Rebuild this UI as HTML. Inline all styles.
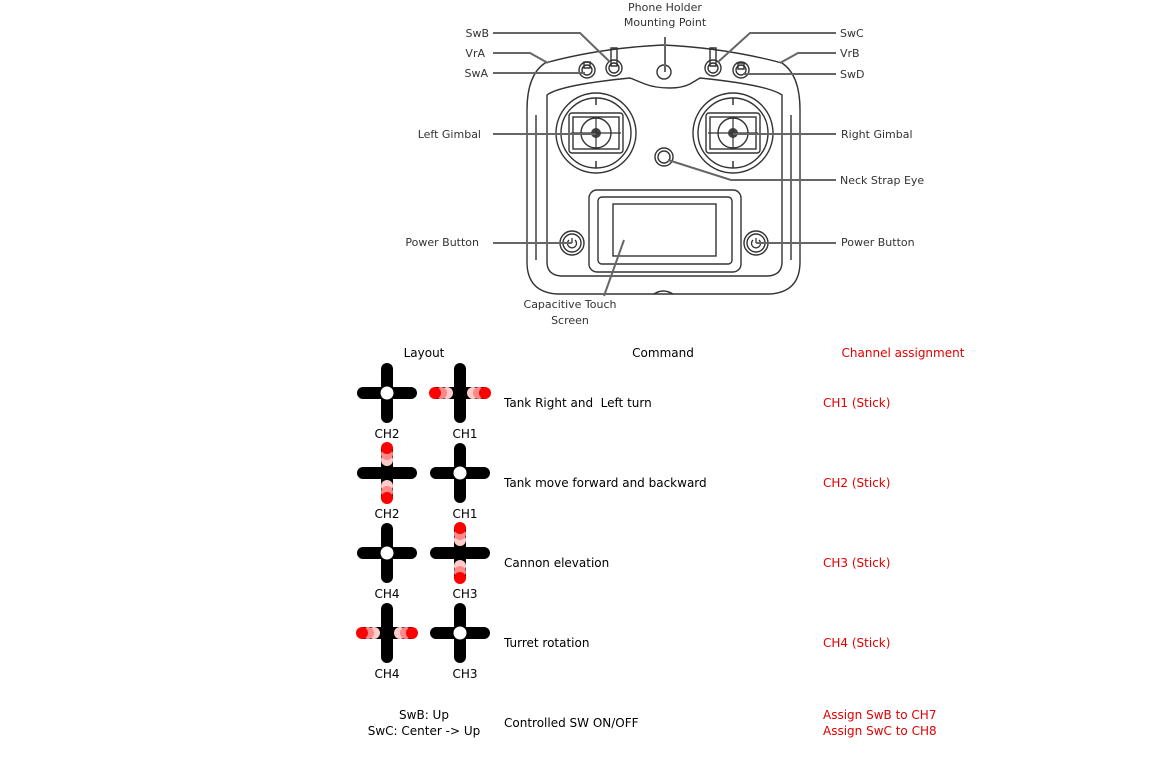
<!DOCTYPE html>
<html><head><meta charset="utf-8"><style>
html,body{margin:0;padding:0;background:#fff;width:1161px;height:764px;overflow:hidden}
svg{display:block}
.l{font-family:"DejaVu Sans","Liberation Sans",sans-serif;font-size:11px;fill:#333}
.t{font-family:"DejaVu Sans","Liberation Sans",sans-serif;font-size:12px;fill:#000}
.r{fill:#e00000}
.ln{stroke:#666;stroke-width:2;fill:none}
.o{stroke:#333;stroke-width:1.4;fill:none}
</style></head><body>
<svg width="1161" height="764" viewBox="0 0 1161 764" xmlns="http://www.w3.org/2000/svg">
<defs>
<g id="cross"><line x1="-24" y1="0" x2="24" y2="0" stroke="#000" stroke-width="12" stroke-linecap="round"/><line x1="0" y1="-24" x2="0" y2="24" stroke="#000" stroke-width="12" stroke-linecap="round"/></g>
<g id="dh"><circle cx="-13" cy="0" r="6" fill="#fcc"/><circle cx="-19" cy="0" r="6" fill="#f88"/><circle cx="-25" cy="0" r="6" fill="#f00"/><circle cx="13" cy="0" r="6" fill="#fcc"/><circle cx="19" cy="0" r="6" fill="#f88"/><circle cx="25" cy="0" r="6" fill="#f00"/></g>
<g id="dv"><circle cy="-13" cx="0" r="6" fill="#fcc"/><circle cy="-19" cx="0" r="6" fill="#f88"/><circle cy="-25" cx="0" r="6" fill="#f00"/><circle cy="13" cx="0" r="6" fill="#fcc"/><circle cy="19" cx="0" r="6" fill="#f88"/><circle cy="25" cx="0" r="6" fill="#f00"/></g>
<circle id="wc" r="6.5" fill="#fff"/>
<g id="gimbal"><circle r="40" class="o"/><circle r="35" class="o"/><rect x="-27" y="-20" width="54" height="40" rx="3" class="o"/><rect x="-23" y="-16" width="46" height="32" class="o"/><circle r="15" class="o"/><circle r="5" fill="#444"/><line x1="-25" y1="0" x2="25" y2="0" stroke="#333" stroke-width="1.2"/><line x1="0" y1="-15" x2="0" y2="15" stroke="#333" stroke-width="1.2"/><line x1="0" y1="-35" x2="0" y2="-28" stroke="#333" stroke-width="1.5"/><line x1="0" y1="28" x2="0" y2="35" stroke="#333" stroke-width="1.5"/></g>
<g id="pwr"><circle r="12" class="o"/><circle r="9" class="o"/><path d="M-3,-3 A4.5,4.5 0 1 0 3,-3" stroke="#333" stroke-width="1.3" fill="none"/><line x1="0" y1="-5" x2="0" y2="0" stroke="#333" stroke-width="1.3"/></g>
<g id="sw"><circle r="8" class="o" stroke-width="1.6"/><circle r="5" class="o"/></g>
</defs>

<path class="o" d="M545,63 Q600,48 663,45 Q726,48 782,63 Q800,75 800,110 L800,262 Q800,292 770,294 L557,294 Q527,292 527,262 L527,110 Q527,75 545,63 Z"/>
<path class="o" d="M547,95 Q560,85 630,78 L645,84 Q655,88 670,88 Q682,88 690,84 L700,78 Q768,85 782,95 L782,262 Q782,275 768,276 L561,276 Q547,275 547,262 Z" stroke-width="2"/>
<path class="o" d="M536,115 L536,260 M791,115 L791,260"/>
<path class="o" d="M654,294 Q663,288 673,294" stroke-width="3"/>
<use href="#gimbal" x="596" y="133"/>
<use href="#gimbal" x="733" y="133"/>
<rect x="589" y="190" width="152" height="82" rx="8" class="o"/>
<rect x="598" y="197" width="134" height="67" rx="4" class="o"/>
<rect x="613" y="204" width="103" height="52" class="o"/>
<use href="#pwr" x="572" y="243"/>
<use href="#pwr" x="756" y="243"/>
<circle cx="664" cy="157" r="9" class="o"/><circle cx="664" cy="157" r="6" class="o"/>
<circle cx="664" cy="72" r="7" class="o"/>
<use href="#sw" x="587" y="70"/><use href="#sw" x="614" y="68"/><use href="#sw" x="713" y="68"/><use href="#sw" x="741" y="70"/>
<path class="o" d="M584,62 L584,68 L590,68 L590,62 Z M611,48 L611,66 L617,66 L617,48 Z M710,48 L710,66 L716,66 L716,48 Z M738,63 L738,69 L744,69 L744,63 Z"/>

<path class="ln" d="M493,33 L580,33 L610,62"/>
<path class="ln" d="M493,53 L530,53 L548,63"/>
<path class="ln" d="M493,73 L585,73"/>
<path class="ln" d="M665,37 L665,72"/>
<path class="ln" d="M836,33 L750,33 L718,62"/>
<path class="ln" d="M836,53 L798,53 L780,63"/>
<path class="ln" d="M836,74 L743,74"/>
<path class="ln" d="M493,134 L596,134"/>
<path class="ln" d="M836,134 L733,134"/>
<path class="ln" d="M836,180 L731,180 L668,160"/>
<path class="ln" d="M493,243 L572,243"/>
<path class="ln" d="M836,243 L756,243"/>
<path class="ln" d="M604,296 L624,240"/>

<text class="l" x="665" y="11" text-anchor="middle">Phone Holder</text>
<text class="l" x="665" y="26" text-anchor="middle">Mounting Point</text>
<text class="l" x="489" y="37" text-anchor="end">SwB</text>
<text class="l" x="485" y="57" text-anchor="end">VrA</text>
<text class="l" x="488" y="77" text-anchor="end">SwA</text>
<text class="l" x="840" y="37">SwC</text>
<text class="l" x="840" y="57">VrB</text>
<text class="l" x="840" y="78">SwD</text>
<text class="l" x="481" y="138" text-anchor="end">Left Gimbal</text>
<text class="l" x="841" y="138">Right Gimbal</text>
<text class="l" x="840" y="184">Neck Strap Eye</text>
<text class="l" x="479" y="246" text-anchor="end">Power Button</text>
<text class="l" x="841" y="246">Power Button</text>
<text class="l" x="570" y="308" text-anchor="middle">Capacitive Touch</text>
<text class="l" x="570" y="324" text-anchor="middle">Screen</text>

<text class="t" x="424" y="357" text-anchor="middle">Layout</text>
<text class="t" x="663" y="357" text-anchor="middle">Command</text>
<text class="t r" x="903" y="357" text-anchor="middle">Channel assignment</text>

<use href="#cross" x="387" y="393"/><use href="#wc" x="387" y="393"/>
<use href="#cross" x="460" y="393"/><use href="#dh" x="460" y="393"/>
<text class="t" x="387" y="438" text-anchor="middle">CH2</text><text class="t" x="465" y="438" text-anchor="middle">CH1</text>
<text class="t" x="504" y="407">Tank Right and &#160;Left turn</text>
<text class="t r" x="823" y="407">CH1 (Stick)</text>

<use href="#cross" x="387" y="473"/><use href="#dv" x="387" y="473"/>
<use href="#cross" x="460" y="473"/><use href="#wc" x="460" y="473"/>
<text class="t" x="387" y="518" text-anchor="middle">CH2</text><text class="t" x="465" y="518" text-anchor="middle">CH1</text>
<text class="t" x="504" y="487">Tank move forward and backward</text>
<text class="t r" x="823" y="487">CH2 (Stick)</text>

<use href="#cross" x="387" y="553"/><use href="#wc" x="387" y="553"/>
<use href="#cross" x="460" y="553"/><use href="#dv" x="460" y="553"/>
<text class="t" x="387" y="598" text-anchor="middle">CH4</text><text class="t" x="465" y="598" text-anchor="middle">CH3</text>
<text class="t" x="504" y="567">Cannon elevation</text>
<text class="t r" x="823" y="567">CH3 (Stick)</text>

<use href="#cross" x="387" y="633"/><use href="#dh" x="387" y="633"/>
<use href="#cross" x="460" y="633"/><use href="#wc" x="460" y="633"/>
<text class="t" x="387" y="678" text-anchor="middle">CH4</text><text class="t" x="465" y="678" text-anchor="middle">CH3</text>
<text class="t" x="504" y="647">Turret rotation</text>
<text class="t r" x="823" y="647">CH4 (Stick)</text>

<text class="t" x="424" y="719" text-anchor="middle">SwB: Up</text>
<text class="t" x="424" y="735" text-anchor="middle">SwC: Center -&gt; Up</text>
<text class="t" x="504" y="727">Controlled SW ON/OFF</text>
<text class="t r" x="823" y="719">Assign SwB to CH7</text>
<text class="t r" x="823" y="735">Assign SwC to CH8</text>
</svg>
</body></html>
